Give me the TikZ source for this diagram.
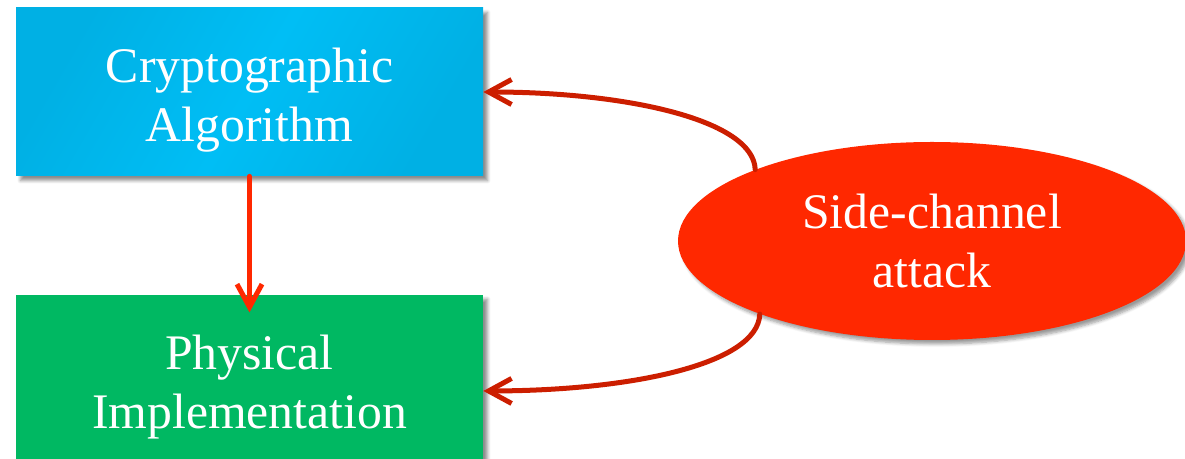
\documentclass[tikz,border=0pt]{standalone}
\usepackage{fontspec}
\setmainfont{Liberation Serif}
\usepackage{xcolor}
\usetikzlibrary{shapes.geometric, arrows.meta, positioning, shadows.blur}

\definecolor{cryptoblue}{RGB}{0,176,228}
\definecolor{cryptolight}{RGB}{0,190,245}
\definecolor{physgreen}{RGB}{0,184,98}
\definecolor{sidered}{RGB}{255,40,0}
\definecolor{attackred}{RGB}{204,30,0}

\newcommand{\topstrut}{\rule{0pt}{1.02cm}}

\begin{document}
\begin{tikzpicture}[
    block/.style={
        rectangle,
        minimum width=9.34cm,
        minimum height=3.36cm,
        align=center,
        text=white,
        font=\fontsize{28.3}{33.5}\selectfont,
        blur shadow={shadow xshift=0.09cm, shadow yshift=-0.09cm, shadow blur steps=6, shadow opacity=45}
    },
    attack/.style={
        ellipse,
        fill=sidered,
        minimum width=10.16cm,
        minimum height=3.96cm,
        align=center,
        text=white,
        font=\fontsize{28.3}{33.5}\selectfont,
        blur shadow={shadow xshift=0.08cm, shadow yshift=-0.08cm, shadow blur steps=6, shadow opacity=40}
    },
    arrow/.style={-{Straight Barb[length=0.46cm, width=0.5cm]}, line width=0.1cm, line cap=round, line join=round}
]
\useasboundingbox (0,0) rectangle (23.7,9.18);

% Boxes on the left
\node (crypto) [block, left color=cryptoblue, right color=cryptoblue, middle color=cryptolight, shading angle=60]
    at (4.99,7.34) {\topstrut Cryptographic\\Algorithm};

\node (phys) [block, fill=physgreen, below=2.36cm of crypto]
    {\topstrut Physical\\Implementation};

% Attack
\node (side) [attack] at (18.64,4.36) {Side-channel\\attack};

% Arrows
\draw[arrow, sidered, shorten >=-0.36cm] (crypto.south) -- (phys.north);
\draw[arrow, attackred] (side.158) to[out=92, in=0, out looseness=0.45, in looseness=1.3] (crypto.east);
\draw[arrow, attackred] (side.203) to[out=-92, in=0, out looseness=0.45, in looseness=1.3] (phys.-3);

\end{tikzpicture}
\end{document}
